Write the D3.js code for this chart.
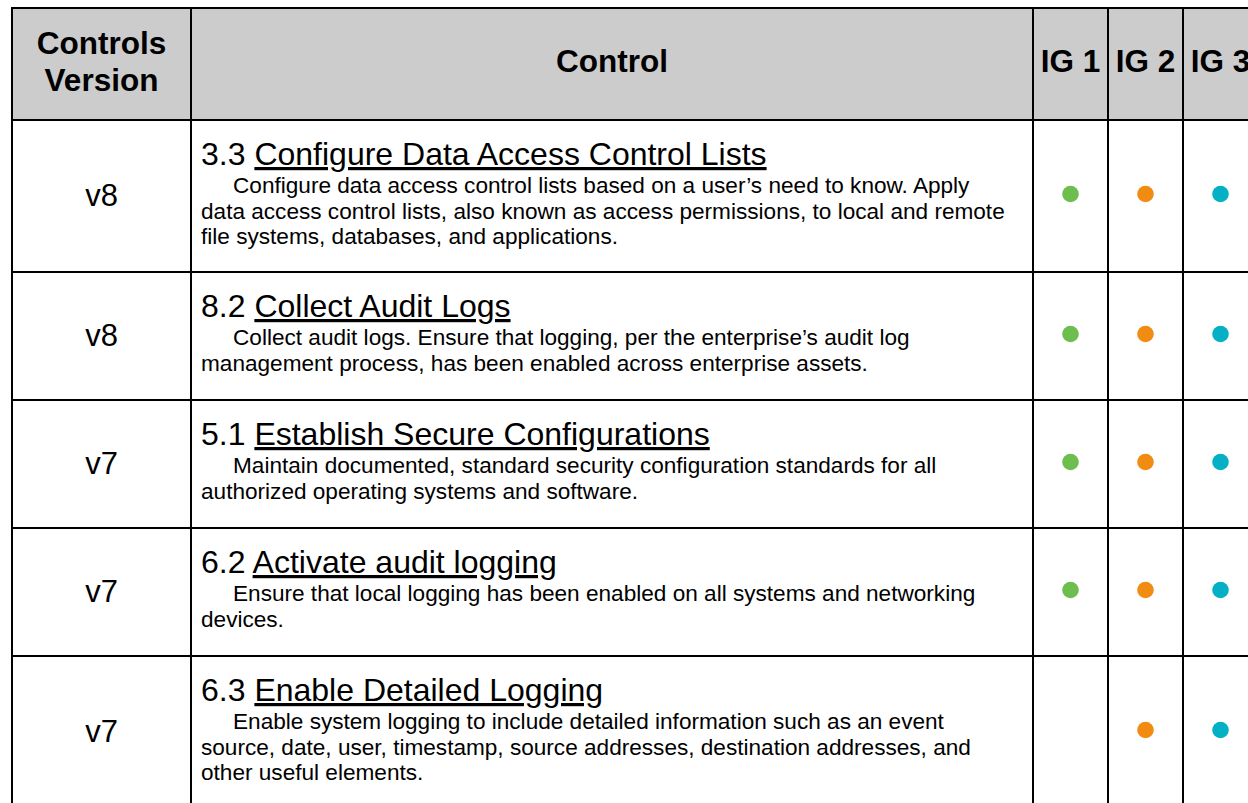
<!DOCTYPE html>
<html><head><meta charset="utf-8">
<script src="https://cdn.jsdelivr.net/npm/d3@7"></script>
<style>html,body{margin:0;padding:0;background:#fff;overflow:hidden}</style>
</head><body>
<svg id="c" width="1248" height="803"></svg>
<script>
const headers = ["Controls\nVersion", "Control", "IG 1", "IG 2", "IG 3"];
const versions = ["v8", "v8", "v7", "v7", "v7"];
const numbers = ["3.3", "8.2", "5.1", "6.2", "6.3"];
const titles = ["Configure Data Access Control Lists", "Collect Audit Logs", "Establish Secure Configurations", "Activate audit logging", "Enable Detailed Logging"];
const descriptions = [
  ["Configure data access control lists based on a user\u2019s need to know. Apply", "data access control lists, also known as access permissions, to local and remote", "file systems, databases, and applications."],
  ["Collect audit logs. Ensure that logging, per the enterprise\u2019s audit log", "management process, has been enabled across enterprise assets."],
  ["Maintain documented, standard security configuration standards for all", "authorized operating systems and software."],
  ["Ensure that local logging has been enabled on all systems and networking", "devices."],
  ["Enable system logging to include detailed information such as an event", "source, date, user, timestamp, source addresses, destination addresses, and", "other useful elements."]
];
const ig1 = [true, true, true, true, false];
const ig2 = [true, true, true, true, true];
const ig3 = [true, true, true, true, true];
const igColors = ["#6dbe4f", "#f28b12", "#04b0c3"];

const svg = d3.select("#c");
const font = "'Liberation Sans', Arial, sans-serif";
const colEdges = [12, 191, 1033, 1108, 1183, 1258];
const headerTop = 8, headerH = 112;
const lineH = 25.5;
const rowHeights = descriptions.map(d => 80 + 24 * d.length);
const rowTops = [];
let yy = headerTop + headerH;
rowHeights.forEach(h => { rowTops.push(yy); yy += h; });

// header background
svg.append("rect").attr("x", colEdges[0]).attr("y", headerTop)
  .attr("width", colEdges[5] - colEdges[0]).attr("height", headerH).attr("fill", "#cccccc");

// header texts
headers.forEach((h, i) => {
  const cx = (colEdges[i] + colEdges[i + 1]) / 2;
  const lines = h.split("\n");
  const t = svg.append("text").attr("text-anchor", "middle")
    .attr("font-family", font).attr("font-weight", "bold").attr("font-size", 31.5).attr("fill", "#000");
  lines.forEach((l, j) => {
    const y = lines.length > 1 ? headerTop + 45.5 + j * 37 : headerTop + 64;
    t.append("tspan").attr("x", cx).attr("y", y).text(l);
  });
});

// rows
versions.forEach((v, r) => {
  const top = rowTops[r], h = rowHeights[r], cy = top + h / 2;
  svg.append("text").attr("x", (colEdges[0] + colEdges[1]) / 2).attr("y", cy + 10)
    .attr("text-anchor", "middle").attr("font-family", font).attr("font-size", 31).text(v);
  const tx = colEdges[1] + 10;
  const tt = svg.append("text").attr("x", tx).attr("y", top + 45)
    .attr("font-family", font).attr("font-size", 32).attr("fill", "#000");
  tt.append("tspan").text(numbers[r] + " ");
  tt.append("tspan").attr("text-decoration", "underline").text(titles[r]);
  const dt = svg.append("text").attr("font-family", font).attr("font-size", 22.6);
  descriptions[r].forEach((l, j) => {
    dt.append("tspan").attr("x", j === 0 ? tx + 32 : tx).attr("y", top + 73 + j * lineH).text(l);
  });
  [ig1, ig2, ig3].forEach((arr, k) => {
    if (arr[r]) {
      svg.append("circle").attr("cx", (colEdges[2 + k] + colEdges[3 + k]) / 2).attr("cy", cy - 2)
        .attr("r", 8.3).attr("fill", igColors[k]);
    }
  });
});

// grid lines
const bottom = yy;
const hl = [headerTop, headerTop + headerH, ...rowTops.slice(1), bottom];
hl.forEach(y => svg.append("line").attr("x1", colEdges[0] - 1).attr("x2", 1260)
  .attr("y1", y).attr("y2", y).attr("stroke", "#000").attr("stroke-width", 2));
colEdges.forEach(x => svg.append("line").attr("x1", x).attr("x2", x)
  .attr("y1", headerTop).attr("y2", bottom).attr("stroke", "#000").attr("stroke-width", 2));
</script>
</body></html>
